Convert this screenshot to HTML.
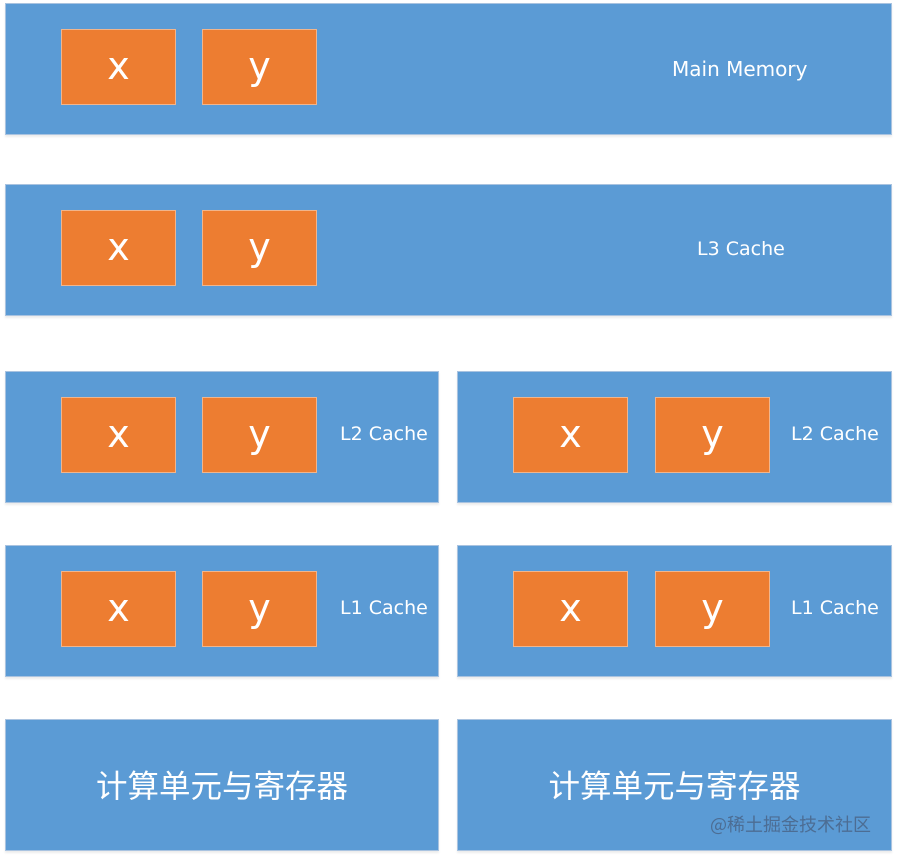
<!DOCTYPE html>
<html><head><meta charset="utf-8"><style>
html,body{margin:0;padding:0;background:#fff;}
body{width:897px;height:859px;position:relative;overflow:hidden;font-family:"Liberation Sans","Noto Sans CJK SC",sans-serif;}
.b{position:absolute;background:#5b9bd5;border:1px solid #a9c3e0;box-sizing:border-box;box-shadow:0 2px 2px rgba(0,0,0,0.08);}
.o{position:absolute;background:#ed7d31;border:1px solid #f1b58c;box-sizing:border-box;width:115px;height:76px;color:#fff;font-size:38px;text-align:center;line-height:72px;font-family:"DejaVu Sans",sans-serif;}
.t{position:absolute;color:#fff;font-size:19px;font-family:"DejaVu Sans",sans-serif;white-space:nowrap;}
.c{position:absolute;color:#fff;font-size:31.5px;font-family:"Noto Sans CJK SC",sans-serif;white-space:nowrap;text-align:center;}
</style></head><body>
<div class="b" style="left:5px;top:3px;width:887px;height:132px"></div>
<div class="o" style="left:61px;top:29px">x</div><div class="o" style="left:202px;top:29px">y</div>
<div class="t" style="left:672px;top:57px;font-size:20px">Main Memory</div>

<div class="b" style="left:5px;top:184px;width:887px;height:132px"></div>
<div class="o" style="left:61px;top:210px">x</div><div class="o" style="left:202px;top:210px">y</div>
<div class="t" style="left:697px;top:238px">L3 Cache</div>

<div class="b" style="left:5px;top:371px;width:434px;height:132px"></div>
<div class="o" style="left:61px;top:397px">x</div><div class="o" style="left:202px;top:397px">y</div>
<div class="t" style="left:340px;top:423px">L2 Cache</div>
<div class="b" style="left:457px;top:371px;width:435px;height:132px"></div>
<div class="o" style="left:513px;top:397px">x</div><div class="o" style="left:655px;top:397px">y</div>
<div class="t" style="left:791px;top:423px">L2 Cache</div>

<div class="b" style="left:5px;top:545px;width:434px;height:132px"></div>
<div class="o" style="left:61px;top:571px">x</div><div class="o" style="left:202px;top:571px">y</div>
<div class="t" style="left:340px;top:597px">L1 Cache</div>
<div class="b" style="left:457px;top:545px;width:435px;height:132px"></div>
<div class="o" style="left:513px;top:571px">x</div><div class="o" style="left:655px;top:571px">y</div>
<div class="t" style="left:791px;top:597px">L1 Cache</div>

<div class="b" style="left:5px;top:719px;width:434px;height:132px"></div>
<div class="c" style="left:5px;width:434px;top:761px">计算单元与寄存器</div>
<div class="b" style="left:457px;top:719px;width:435px;height:132px"></div>
<div class="c" style="left:457px;width:435px;top:761px">计算单元与寄存器</div>
<div style="position:absolute;left:710px;top:811px;font-size:18px;color:rgba(70,90,120,0.7);font-family:'Noto Sans CJK SC',sans-serif;white-space:nowrap">@稀土掘金技术社区</div>
</body></html>
